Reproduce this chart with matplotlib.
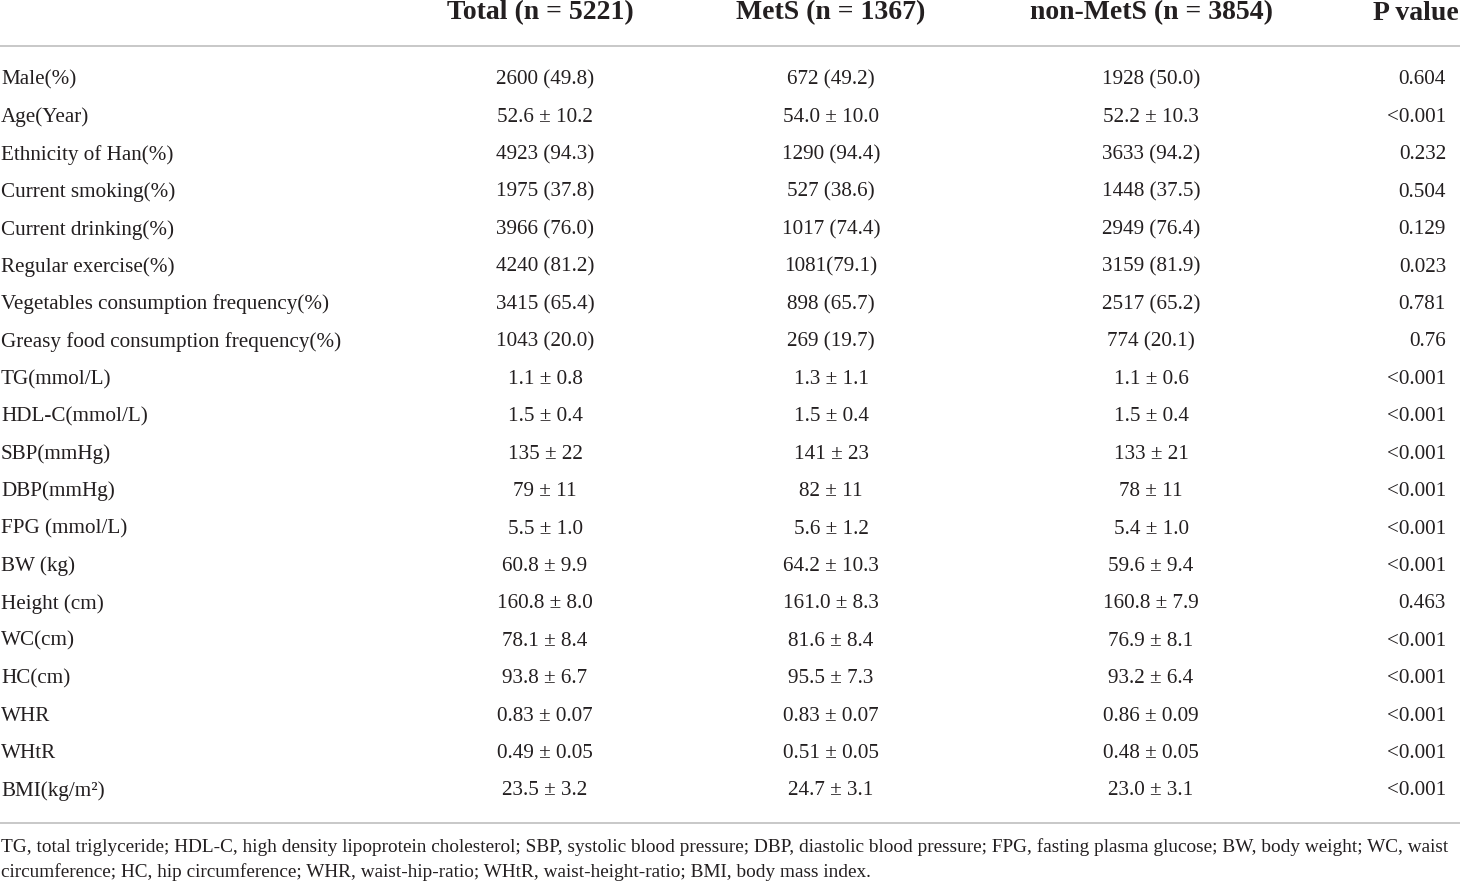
import matplotlib
matplotlib.use("Agg")
import matplotlib.pyplot as plt

plt.rcParams['font.family'] = ['Liberation Serif', 'DejaVu Serif']

headers = ["Total (n = 5221)", "MetS (n = 1367)", "non-MetS (n = 3854)", "P value"]

variables = [
    "Male(%)", "Age(Year)", "Ethnicity of Han(%)", "Current smoking(%)",
    "Current drinking(%)", "Regular exercise(%)", "Vegetables consumption frequency(%)",
    "Greasy food consumption frequency(%)", "TG(mmol/L)", "HDL-C(mmol/L)",
    "SBP(mmHg)", "DBP(mmHg)", "FPG (mmol/L)", "BW (kg)", "Height (cm)",
    "WC(cm)", "HC(cm)", "WHR", "WHtR", "BMI(kg/m\u00b2)",
]

total = [
    "2600 (49.8)", "52.6 \u00b1 10.2", "4923 (94.3)", "1975 (37.8)", "3966 (76.0)",
    "4240 (81.2)", "3415 (65.4)", "1043 (20.0)", "1.1 \u00b1 0.8", "1.5 \u00b1 0.4",
    "135 \u00b1 22", "79 \u00b1 11", "5.5 \u00b1 1.0", "60.8 \u00b1 9.9", "160.8 \u00b1 8.0",
    "78.1 \u00b1 8.4", "93.8 \u00b1 6.7", "0.83 \u00b1 0.07", "0.49 \u00b1 0.05", "23.5 \u00b1 3.2",
]

mets = [
    "672 (49.2)", "54.0 \u00b1 10.0", "1290 (94.4)", "527 (38.6)", "1017 (74.4)",
    "1081(79.1)", "898 (65.7)", "269 (19.7)", "1.3 \u00b1 1.1", "1.5 \u00b1 0.4",
    "141 \u00b1 23", "82 \u00b1 11", "5.6 \u00b1 1.2", "64.2 \u00b1 10.3", "161.0 \u00b1 8.3",
    "81.6 \u00b1 8.4", "95.5 \u00b1 7.3", "0.83 \u00b1 0.07", "0.51 \u00b1 0.05", "24.7 \u00b1 3.1",
]

non_mets = [
    "1928 (50.0)", "52.2 \u00b1 10.3", "3633 (94.2)", "1448 (37.5)", "2949 (76.4)",
    "3159 (81.9)", "2517 (65.2)", "774 (20.1)", "1.1 \u00b1 0.6", "1.5 \u00b1 0.4",
    "133 \u00b1 21", "78 \u00b1 11", "5.4 \u00b1 1.0", "59.6 \u00b1 9.4", "160.8 \u00b1 7.9",
    "76.9 \u00b1 8.1", "93.2 \u00b1 6.4", "0.86 \u00b1 0.09", "0.48 \u00b1 0.05", "23.0 \u00b1 3.1",
]

p_values = [
    "0.604", "<0.001", "0.232", "0.504", "0.129", "0.023", "0.781", "0.76",
    "<0.001", "<0.001", "<0.001", "<0.001", "<0.001", "<0.001", "0.463",
    "<0.001", "<0.001", "<0.001", "<0.001", "<0.001",
]

footnote = [
    "TG, total triglyceride; HDL-C, high density lipoprotein cholesterol; SBP, systolic blood pressure; "
    "DBP, diastolic blood pressure; FPG, fasting plasma glucose; BW, body weight; WC, waist",
    "circumference; HC, hip circumference; WHR, waist-hip-ratio; WHtR, waist-height-ratio; BMI, body mass index.",
]

W, H = 1460, 882
fig = plt.figure(figsize=(W / 100, H / 100), dpi=100)
ax = fig.add_axes([0, 0, 1, 1])
ax.set_xlim(0, W)
ax.set_ylim(H, 0)
ax.axis('off')

txt_color = "#231f20"
body_fs = 15.2
head_fs = 20
foot_fs = 13.9

# header
head_x = [540, 831, 1151, 1459]
head_ha = ["center", "center", "center", "right"]
for x, h, ha in zip(head_x, headers, head_ha):
    ax.text(x, 13, h, ha=ha, va="center", fontsize=head_fs, fontweight="bold", color=txt_color)

# rules
ax.plot([0, W], [46, 46], color="#c4c4c4", lw=1.3, solid_capstyle="butt")
ax.plot([0, W], [823, 823], color="#c4c4c4", lw=1.3, solid_capstyle="butt")

row0, step = 80, 37.42
for i in range(len(variables)):
    y = row0 + i * step
    ax.text(1, y, variables[i], ha="left", va="center", fontsize=body_fs, color=txt_color)
    ax.text(545, y, total[i], ha="center", va="center", fontsize=body_fs, color=txt_color)
    ax.text(831, y, mets[i], ha="center", va="center", fontsize=body_fs, color=txt_color)
    ax.text(1151, y, non_mets[i], ha="center", va="center", fontsize=body_fs, color=txt_color)
    ax.text(1446, y, p_values[i], ha="right", va="center", fontsize=body_fs, color=txt_color)

for j, line in enumerate(footnote):
    ax.text(1, 847 + j * 25, line, ha="left", va="center", fontsize=foot_fs, color=txt_color)

fig.savefig("out.png", dpi=100, facecolor="white")
